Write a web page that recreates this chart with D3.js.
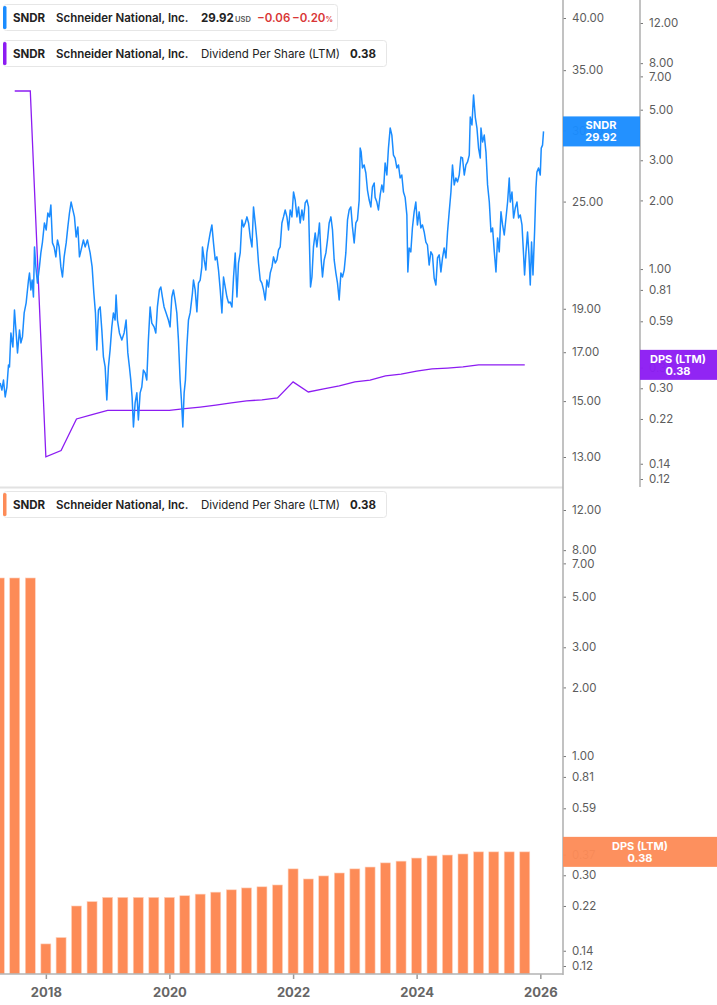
<!DOCTYPE html>
<html>
<head>
<meta charset="utf-8">
<script src="https://cdn.jsdelivr.net/npm/d3@7"></script>
<style>
  html, body { margin: 0; padding: 0; background: #fff; }
  body { font-family: Inter, "Noto Sans", sans-serif; }
  .tick text { font-family: Inter, sans-serif; }
</style>
</head>
<body>
<div id="chart"></div>
<script>
// price closes (decimal year, USD)
var priceYears = [2017.261,2017.288,2017.314,2017.342,2017.369,2017.395,2017.411,2017.434,2017.466,2017.492,2017.519,2017.541,2017.573,2017.596,2017.621,2017.649,2017.681,2017.719,2017.735,2017.757,2017.778,2017.799,2017.816,2017.838,2017.864,2017.896,2017.919,2017.945,2017.977,2018.005,2018.032,2018.058,2018.081,2018.107,2018.134,2018.162,2018.188,2018.215,2018.243,2018.269,2018.296,2018.329,2018.356,2018.382,2018.409,2018.437,2018.463,2018.490,2018.518,2018.544,2018.571,2018.608,2018.636,2018.673,2018.696,2018.717,2018.749,2018.777,2018.803,2018.825,2018.851,2018.879,2018.906,2018.932,2018.960,2018.987,2019.013,2019.040,2019.068,2019.094,2019.121,2019.137,2019.159,2019.191,2019.230,2019.267,2019.299,2019.327,2019.353,2019.375,2019.396,2019.418,2019.445,2019.473,2019.498,2019.526,2019.553,2019.579,2019.607,2019.634,2019.660,2019.688,2019.715,2019.752,2019.780,2019.806,2019.838,2019.861,2019.887,2019.914,2019.947,2019.984,2020.011,2020.039,2020.065,2020.092,2020.120,2020.146,2020.173,2020.194,2020.217,2020.238,2020.259,2020.282,2020.308,2020.335,2020.372,2020.389,2020.416,2020.444,2020.469,2020.497,2020.524,2020.534,2020.562,2020.589,2020.605,2020.631,2020.659,2020.686,2020.712,2020.740,2020.767,2020.793,2020.821,2020.848,2020.874,2020.901,2020.929,2020.955,2020.982,2021.010,2021.036,2021.063,2021.091,2021.116,2021.144,2021.172,2021.198,2021.225,2021.253,2021.279,2021.306,2021.334,2021.359,2021.387,2021.414,2021.440,2021.468,2021.495,2021.521,2021.549,2021.576,2021.602,2021.630,2021.658,2021.683,2021.711,2021.738,2021.764,2021.791,2021.819,2021.845,2021.872,2021.900,2021.926,2021.953,2021.981,2022.007,2022.034,2022.062,2022.088,2022.115,2022.143,2022.168,2022.196,2022.224,2022.250,2022.266,2022.282,2022.305,2022.330,2022.358,2022.385,2022.411,2022.427,2022.455,2022.476,2022.503,2022.531,2022.557,2022.584,2022.612,2022.638,2022.665,2022.693,2022.719,2022.746,2022.774,2022.800,2022.827,2022.854,2022.881,2022.908,2022.935,2022.961,2022.989,2023.016,2023.042,2023.070,2023.086,2023.102,2023.123,2023.150,2023.178,2023.204,2023.232,2023.259,2023.285,2023.313,2023.328,2023.356,2023.382,2023.410,2023.437,2023.463,2023.490,2023.518,2023.544,2023.572,2023.599,2023.625,2023.652,2023.680,2023.706,2023.733,2023.760,2023.787,2023.814,2023.842,2023.858,2023.879,2023.906,2023.932,2023.960,2023.987,2024.013,2024.041,2024.068,2024.094,2024.122,2024.149,2024.175,2024.202,2024.230,2024.256,2024.283,2024.311,2024.337,2024.364,2024.392,2024.418,2024.445,2024.473,2024.499,2024.526,2024.554,2024.579,2024.607,2024.634,2024.660,2024.688,2024.715,2024.741,2024.769,2024.796,2024.822,2024.850,2024.866,2024.893,2024.919,2024.947,2024.974,2025.000,2025.028,2025.039,2025.065,2025.092,2025.120,2025.146,2025.174,2025.201,2025.227,2025.255,2025.282,2025.308,2025.335,2025.363,2025.389,2025.416,2025.444,2025.470,2025.497,2025.513,2025.541,2025.567,2025.594,2025.622,2025.648,2025.675,2025.703,2025.729,2025.745,2025.768,2025.793,2025.816,2025.837,2025.858,2025.881,2025.907,2025.929,2025.945,2025.971,2025.999,2026.015,2026.036,2026.052];
var priceValues = [15.71,15.43,15.83,15.16,15.55,16.45,16.37,17.86,17.23,18.94,17.86,16.97,18.00,17.41,17.68,18.80,19.29,20.45,20.82,19.94,20.45,19.58,22.26,21.15,20.29,21.15,21.92,22.54,23.67,23.25,24.28,24.04,24.78,22.49,22.26,21.70,22.66,22.26,21.15,20.61,21.70,22.49,23.43,24.28,24.97,24.47,24.04,22.83,23.43,21.70,22.09,22.66,22.26,22.66,22.26,21.92,21.15,19.78,18.80,17.10,18.94,19.09,18.00,16.80,16.37,15.04,16.37,17.10,18.14,18.80,18.46,19.68,18.46,17.86,17.54,17.86,18.46,16.97,16.37,15.83,15.16,14.04,14.93,15.32,14.29,15.32,15.55,16.24,16.12,15.83,17.54,19.09,18.32,18.14,17.86,19.09,19.94,20.09,19.58,19.09,18.80,18.46,18.14,19.58,19.94,19.43,18.80,17.54,15.83,15.04,14.04,15.32,15.83,17.23,18.46,18.80,19.78,20.45,19.94,18.85,20.29,20.45,21.15,22.26,21.53,20.98,21.92,22.49,23.07,23.55,22.49,21.53,21.70,20.98,19.94,18.80,20.61,20.09,19.58,19.29,19.33,19.09,20.61,21.92,19.58,21.36,21.92,23.85,23.43,23.67,24.04,23.67,22.83,22.26,24.66,23.67,22.66,21.36,20.45,20.29,19.94,19.43,20.45,20.09,20.82,21.15,21.70,21.36,21.53,22.09,22.26,23.67,24.04,24.47,24.04,23.25,24.47,24.04,25.62,25.10,24.04,24.66,23.67,24.47,23.85,24.91,25.10,24.66,22.26,20.09,20.61,22.26,23.07,22.26,23.07,23.67,21.53,20.61,21.53,21.92,22.66,23.67,24.04,23.25,21.53,20.82,20.29,19.43,20.82,20.61,20.98,21.92,23.85,24.47,24.66,23.43,22.49,23.67,23.85,25.10,28.67,28.38,27.25,27.46,26.90,25.75,25.10,24.66,25.95,26.22,25.27,24.97,24.47,25.43,26.09,25.62,27.60,26.76,28.67,30.18,29.64,28.16,27.95,27.25,27.46,26.56,26.76,25.62,25.27,24.16,20.88,22.20,21.98,23.37,24.35,24.97,23.55,24.35,23.37,23.55,23.13,22.54,22.37,21.25,21.98,21.81,20.56,20.19,21.64,21.81,20.88,21.64,22.20,21.64,23.13,24.35,25.62,27.46,26.09,26.56,26.29,26.76,28.02,27.95,26.76,27.46,27.67,28.16,31.04,30.42,32.84,31.04,30.18,28.67,27.95,30.18,29.12,29.64,28.38,26.09,24.97,23.13,23.37,21.98,20.88,22.78,21.98,24.35,23.55,22.95,23.97,24.97,26.56,24.97,25.62,23.97,24.59,24.97,23.97,24.16,23.55,21.81,20.72,21.98,23.13,21.81,20.19,22.54,20.72,23.13,25.88,26.97,27.25,26.76,28.67,28.89,29.92];

// dividend per share (LTM), quarterly
var dpsDates = ["2017-04-01","2017-07-01","2017-10-01","2018-01-01","2018-04-01","2018-07-01","2018-10-01","2019-01-01","2019-04-01","2019-07-01","2019-10-01","2020-01-01","2020-04-01","2020-07-01","2020-10-01","2021-01-01","2021-04-01","2021-07-01","2021-10-01","2022-01-01","2022-04-01","2022-07-01","2022-10-01","2023-01-01","2023-04-01","2023-07-01","2023-10-01","2024-01-01","2024-04-01","2024-07-01","2024-10-01","2025-01-01","2025-04-01","2025-07-01","2025-10-01"];
var dpsValues = [6.04,6.04,6.04,0.15,0.16,0.22,0.23,0.24,0.24,0.24,0.24,0.24,0.244,0.248,0.253,0.259,0.264,0.267,0.272,0.32,0.289,0.298,0.307,0.32,0.326,0.34,0.346,0.357,0.365,0.368,0.372,0.38,0.38,0.38,0.38];

var priceTicks = [13, 15, 17, 19, 25, 30, 35, 40];
var dpsTicks = [0.12, 0.14, 0.22, 0.30, 0.37, 0.59, 0.81, 1, 2, 3, 5, 7, 8, 12];
var yearTicks = ["2018-01-01", "2020-01-01", "2022-01-01", "2024-01-01", "2026-01-01"];

var lastPrice = 29.92, lastChange = -0.06, lastChangePct = -0.20, lastDps = 0.38;

var W = 717, H = 1005;
var plotRight = 563, dpsAxisX = 640;
var blue = "#1a8cff", purple = "#8c1cf2", orange = "#fd8b57";
var parseDate = d3.timeParse("%Y-%m-%d");

function yearToDate(y) {
  var yr = Math.floor(y);
  var start = Date.UTC(yr, 0, 1), end = Date.UTC(yr + 1, 0, 1);
  return new Date(start + (y - yr) * (end - start));
}

var prices = priceYears.map(function(y, i) { return { date: yearToDate(y), value: priceValues[i] }; });
var dps = dpsDates.map(function(d, i) { return { date: parseDate(d), value: dpsValues[i] }; });

var svg = d3.select("#chart").append("svg")
  .attr("width", W).attr("height", H)
  .style("display", "block");

var x = d3.scaleTime()
  .domain([new Date(2017, 3, 5), new Date(2026, 4, 15)])
  .range([0, plotRight]);

var yPrice = d3.scaleLog().domain([13, 40]).range([457, 18]);
var yDpsTop = d3.scaleLog().domain([0.12, 12]).range([479, 23]);
var yDpsBot = d3.scaleLog().domain([0.12, 12]).range([966, 510]);
var baseY = 974;

// clip regions for the two panels
var defs = svg.append("defs");
defs.append("clipPath").attr("id", "clipTop").append("rect")
  .attr("x", 0).attr("y", 0).attr("width", plotRight).attr("height", 487);
defs.append("clipPath").attr("id", "clipBot").append("rect")
  .attr("x", 0).attr("y", 489).attr("width", plotRight).attr("height", baseY - 489);

// ---------- top panel ----------
var topPanel = svg.append("g").attr("clip-path", "url(#clipTop)");

topPanel.append("path")
  .datum(dps.slice(1))
  .attr("fill", "none")
  .attr("stroke", purple)
  .attr("stroke-width", 1.3)
  .attr("d", d3.line().x(function(d) { return x(d.date); }).y(function(d) { return yDpsTop(d.value); }));

topPanel.append("path")
  .datum(prices)
  .attr("fill", "none")
  .attr("stroke", blue)
  .attr("stroke-width", 1.5)
  .attr("stroke-linejoin", "round")
  .attr("d", d3.line().x(function(d) { return x(d.date); }).y(function(d) { return yPrice(d.value); }));

// panel separator
svg.append("line").attr("x1", 0).attr("x2", plotRight).attr("y1", 487.5).attr("y2", 487.5)
  .attr("stroke", "#e2e2e2").attr("stroke-width", 2);

// ---------- bottom panel ----------
var botPanel = svg.append("g").attr("clip-path", "url(#clipBot)");
var barW = 10;
botPanel.selectAll("rect.bar")
  .data(dps)
  .enter().append("rect")
  .attr("class", "bar")
  .attr("x", function(d) { return x(d.date) - barW / 2; })
  .attr("y", function(d) { return yDpsBot(d.value); })
  .attr("width", barW)
  .attr("height", function(d) { return baseY - yDpsBot(d.value); })
  .attr("fill", orange)
  .attr("stroke", "#ffd2bd")
  .attr("stroke-width", 0.6);

// ---------- axes ----------
function styleAxis(g) {
  g.select(".domain").remove();
  g.selectAll(".tick line").attr("stroke", "#777").attr("stroke-width", 1);
  g.selectAll(".tick text").attr("fill", "#5c5c5c").style("font-size", "11.5px");
}

svg.append("g")
  .attr("transform", "translate(" + plotRight + ",0)")
  .call(d3.axisRight(yPrice).tickValues(priceTicks).tickFormat(d3.format(".2f")).tickSize(3).tickPadding(6))
  .call(styleAxis);

svg.append("g")
  .attr("transform", "translate(" + dpsAxisX + ",0)")
  .call(d3.axisRight(yDpsTop).tickValues(dpsTicks).tickFormat(d3.format(".2f")).tickSize(3).tickPadding(6))
  .call(styleAxis);

svg.append("g")
  .attr("transform", "translate(" + plotRight + ",0)")
  .call(d3.axisRight(yDpsBot).tickValues(dpsTicks).tickFormat(d3.format(".2f")).tickSize(3).tickPadding(6))
  .call(styleAxis);

// axis spines
svg.append("line").attr("x1", plotRight).attr("x2", plotRight).attr("y1", 0).attr("y2", baseY + 1)
  .attr("stroke", "#b3b3b3").attr("stroke-width", 1.6);
svg.append("line").attr("x1", dpsAxisX).attr("x2", dpsAxisX).attr("y1", 0).attr("y2", 487)
  .attr("stroke", "#b3b3b3").attr("stroke-width", 1.6);

var xAxis = svg.append("g")
  .attr("transform", "translate(0," + baseY + ")")
  .call(d3.axisBottom(x).tickValues(yearTicks.map(parseDate)).tickFormat(d3.timeFormat("%Y")).tickSize(5).tickPadding(9));
xAxis.select(".domain").remove();
xAxis.selectAll(".tick line").attr("stroke", "#999").attr("stroke-width", 1.5);
xAxis.selectAll(".tick text").attr("fill", "#666").style("font-size", "13px").style("font-weight", "700");
svg.append("line").attr("x1", 0).attr("x2", plotRight).attr("y1", baseY).attr("y2", baseY)
  .attr("stroke", "#b3b3b3").attr("stroke-width", 1.6);

// ---------- value flags on the axes ----------
function flag(x0, w, yc, color, l1, l2, cx) {
  var g = svg.append("g");
  g.append("rect").attr("x", x0).attr("y", yc - 15).attr("width", w).attr("height", 30)
    .attr("fill", color).attr("fill-opacity", 0.96);
  g.append("text").attr("x", cx).attr("y", yc - 2).attr("text-anchor", "middle")
    .attr("fill", "#fff").style("font-size", "11px").style("font-weight", "700").text(l1);
  g.append("text").attr("x", cx).attr("y", yc + 10).attr("text-anchor", "middle")
    .attr("fill", "#fff").style("font-size", "11px").style("font-weight", "700").text(l2);
}
flag(plotRight, dpsAxisX - plotRight, yPrice(lastPrice), blue, "SNDR", d3.format(".2f")(lastPrice), 601);
flag(dpsAxisX, W - dpsAxisX, yDpsTop(lastDps), purple, "DPS (LTM)", d3.format(".2f")(lastDps), 678);
flag(plotRight, W - plotRight, yDpsBot(lastDps), orange, "DPS (LTM)", d3.format(".2f")(lastDps), 640);

// ---------- legends ----------
function legendBox(y0, w, color) {
  var g = svg.append("g");
  g.append("rect").attr("x", 3.5).attr("y", y0 + 0.5).attr("width", w).attr("height", 26).attr("rx", 3)
    .attr("fill", "#fff").attr("stroke", "#e6e6e6");
  g.append("rect").attr("x", 3).attr("y", y0 + 2).attr("width", 3.5).attr("height", 23).attr("rx", 1.5)
    .attr("fill", color);
  return g;
}
function txt(g, xx, yy, s, size, weight, fill) {
  return g.append("text").attr("x", xx).attr("y", yy).attr("fill", fill || "#222")
    .style("font-size", size + "px").style("font-weight", weight).text(s);
}

var l1 = legendBox(4, 334, blue);
txt(l1, 13, 21.5, "SNDR", 11.5, 700);
txt(l1, 56, 21.5, "Schneider National, Inc.", 11.5, 600);
txt(l1, 201, 21.5, d3.format(".2f")(lastPrice), 11.5, 700);
txt(l1, 235, 21.5, "USD", 7.5, 600, "#555");
txt(l1, 257, 21.5, d3.format(".2f")(lastChange), 11.5, 600, "#d93636");
var pct = txt(l1, 292, 21.5, d3.format(".2f")(lastChangePct), 11.5, 600, "#d93636");
pct.append("tspan").style("font-size", "7.5px").text("%");

function dpsLegend(y0, color) {
  var g = legendBox(y0, 383, color);
  txt(g, 13, y0 + 17.5, "SNDR", 11.5, 700);
  txt(g, 56, y0 + 17.5, "Schneider National, Inc.", 11.5, 600);
  txt(g, 201, y0 + 17.5, "Dividend Per Share (LTM)", 11.5, 400);
  txt(g, 350, y0 + 17.5, d3.format(".2f")(lastDps), 11.5, 700);
}
dpsLegend(40, purple);
dpsLegend(491, orange);
</script>
</body>
</html>
